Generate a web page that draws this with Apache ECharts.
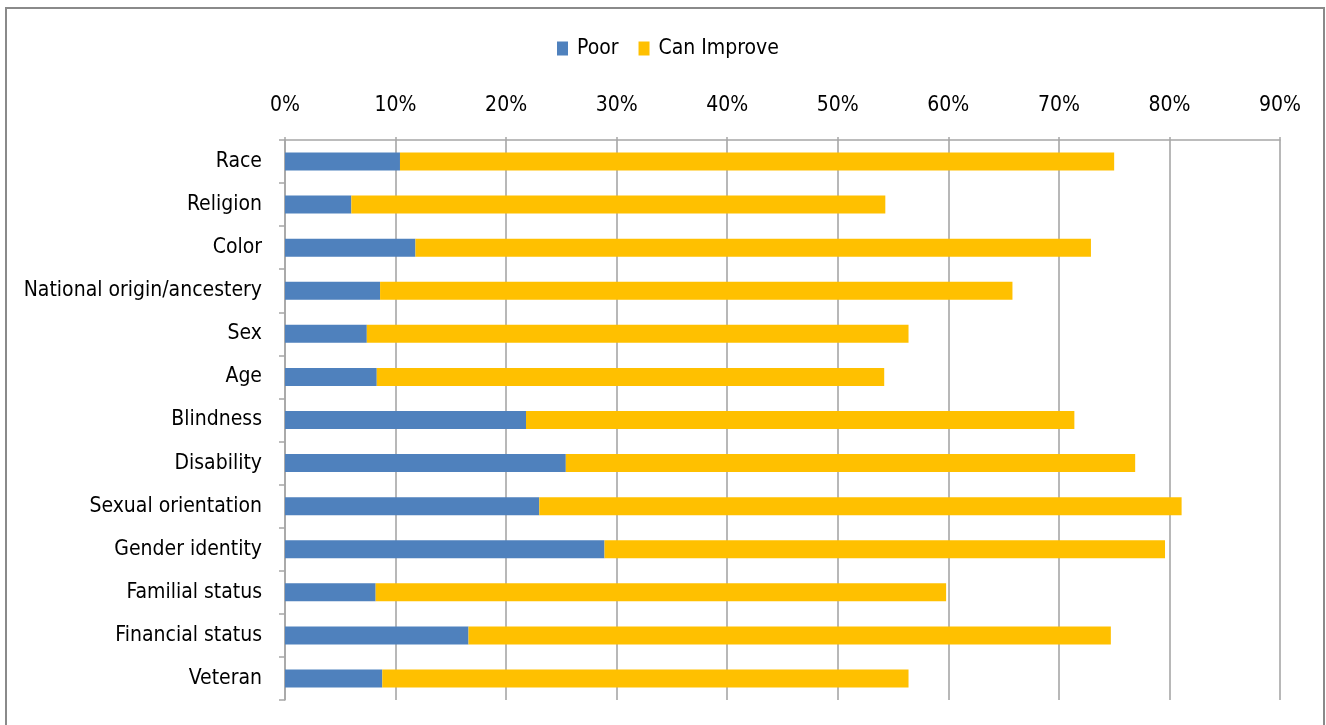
<!DOCTYPE html>
<html>
<head>
<meta charset="utf-8">
<title>Poor / Can Improve by category</title>
<script src="https://cdn.jsdelivr.net/npm/echarts@6/dist/echarts.min.js"></script>
<style>
  html, body { margin: 0; padding: 0; background: #fff; }
  #chart { width: 1326px; height: 725px; }
</style>
</head>
<body>
<div id="chart"></div>
<script>
// Categories, top to bottom
const categories = [
  'Race', 'Religion', 'Color', 'National origin/ancestery', 'Sex', 'Age',
  'Blindness', 'Disability', 'Sexual orientation', 'Gender identity',
  'Familial status', 'Financial status', 'Veteran'
];

// Share of responses (%) per category
const poor = [10.4, 6.0, 11.8, 8.6, 7.4, 8.3, 21.8, 25.4, 23.0, 28.9, 8.2, 16.6, 8.8];
const canImprove = [64.6, 48.3, 61.1, 57.2, 49.0, 45.9, 49.6, 51.5, 58.1, 50.7, 51.6, 58.1, 47.6];

// Value axis ticks
const axisMin = 0;
const axisMax = 90;
const axisStep = 10;

const FONT = '"Liberation Sans Narrow", "DejaVu Sans Condensed", "Liberation Sans", sans-serif';

const chart = echarts.init(document.getElementById('chart'), null, { renderer: 'canvas' });

chart.setOption({
  backgroundColor: '#ffffff',
  animation: false,
  textStyle: { fontFamily: FONT },
  graphic: [{
    type: 'rect',
    shape: { x: 6, y: 8, width: 1318, height: 740 },
    style: { fill: 'none', stroke: '#8a8a8a', lineWidth: 2 },
    silent: true
  }],
  legend: {
    top: 33,
    left: 552,
    itemWidth: 11,
    itemHeight: 14,
    itemGap: 20,
    icon: 'rect',
    textStyle: { fontFamily: FONT, fontSize: 21, color: '#000', padding: [0, 0, 0, 4] },
    data: ['Poor', 'Can Improve']
  },
  grid: { left: 285, right: 46, top: 140, bottom: 25, containLabel: false },
  xAxis: {
    type: 'value',
    position: 'top',
    min: axisMin,
    max: axisMax,
    interval: axisStep,
    axisLine: { show: true, lineStyle: { color: '#a6a6a6', width: 1.5 } },
    axisTick: { show: true, length: 3, lineStyle: { color: '#a6a6a6', width: 1.5 } },
    axisLabel: {
      formatter: '{value}%',
      margin: 24,
      fontFamily: FONT,
      fontSize: 21,
      color: '#000'
    },
    splitLine: { show: true, lineStyle: { color: '#a0a0a0', width: 1.5 } }
  },
  yAxis: {
    type: 'category',
    inverse: true,
    data: categories,
    axisLine: { show: true, lineStyle: { color: '#a6a6a6', width: 1.5 } },
    axisTick: { show: true, length: 6, interval: 0, lineStyle: { color: '#a6a6a6', width: 1.5 } },
    axisLabel: {
      interval: 0,
      margin: 23,
      fontFamily: FONT,
      fontSize: 21,
      color: '#000'
    },
    splitLine: { show: false }
  },
  series: [
    {
      name: 'Poor',
      type: 'bar',
      stack: 'total',
      barWidth: 18,
      itemStyle: { color: '#4F81BD' },
      data: poor
    },
    {
      name: 'Can Improve',
      type: 'bar',
      stack: 'total',
      barWidth: 18,
      itemStyle: { color: '#FFC000' },
      data: canImprove
    }
  ]
});
</script>
</body>
</html>
